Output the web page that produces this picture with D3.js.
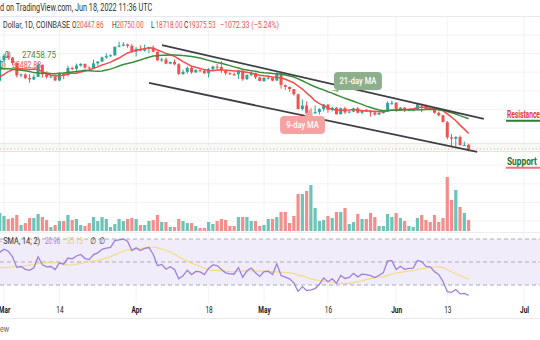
<!DOCTYPE html>
<html><head><meta charset="utf-8">
<script src="https://cdn.jsdelivr.net/npm/d3@7"></script>
<style>
body{margin:0;background:#fff;}
svg{display:block;font-family:Roboto,"DejaVu Sans",sans-serif;}
</style>
</head><body>
<svg id="c" width="540" height="340"></svg>
<script>
// ---------------- DATA ----------------
const firstDay = "2022-02-28";   // first visible daily candle
// warm-up closes (Jan 1 – Feb 27) used only for the indicators
const warmupCloses = [47690,47290,46440,45830,43430,43080,41550,41730,41860,41820,42740,43920,42590,43100,43180,43110,42250,42380,41680,40700,36480,35070,36280,36680,36960,36850,37150,37720,38170,37920,38480,
38740,36950,37150,41570,41410,42410,43840,44100,44350,43560,42400,42200,42080,42550,44560,43880,40550,40000,40120,38430,37020,38280,37260,38330,39220,39110,37710];

const openPrices = [37710,
43190,44420,43920,42460,39140,39400,38420,38060,38740,41980,39440,38730,38810,37780,39670,39280,41120,40920,41770,42250,41260,41000,42370,42890,43960,44330,44540,46820,47130,47450,47070,
45530,46280,45810,46410,46620,45510,43170,43440,42290,42780,42160,39530,40080,41150,39940,40550,40390,39690,40800,41500,41370,40480,39710,39470,39450,40430,38120,39240,39740,38600,
37640,38470,38530,37750,39690,36550,36030,35470,34060,30100,31020,28940,29040,29290,30080,31310,29850,30430,28710,30320,29200,29430,30280,29100,29650,29540,29200,28630,29030,29460,31730,
31790,29800,30450,29700,29860,29910,31370,31130,30200,30110,29090,28420,26570,22490,22130,22580,20380,20447.86];
const highPrices = [44200,
44950,45400,44100,42530,39650,39690,39480,39380,42590,42060,40240,39360,39310,39940,39870,41720,41480,42320,42400,42300,41550,43360,42900,44200,45100,44800,46900,48190,48100,47700,47600,
46720,47200,47420,46880,47200,45510,43900,43970,42800,43430,42420,40700,41550,41500,40860,40700,40600,41120,41740,42200,42980,40800,39990,39920,40620,40800,39450,40370,39900,38790,
38680,39160,38630,39960,39850,36660,36150,35500,34260,32650,32150,30040,31080,30330,31460,31310,30760,30660,30520,30750,29600,30460,30650,29820,30200,29840,29370,29200,29540,32200,32380,
31960,30670,30690,29950,30160,31760,31560,31330,30650,30350,29440,28540,26880,23330,22800,22980,21350,20750.00];
const lowPrices = [37470,
42850,43330,41850,38600,38600,38090,37170,37870,38660,38550,38230,38660,37600,37580,38120,38830,40500,40140,41500,40920,40500,40890,41750,42680,43600,44100,44420,46680,46950,46550,45200,
44230,45650,45550,45150,45370,43100,42750,42120,42130,41880,39200,39250,39590,39580,39790,39990,39550,38540,40570,40820,39770,39200,39300,39000,38200,37700,37880,38880,38180,37580,
37400,38050,37520,37700,35600,35260,34780,33720,30030,29730,27700,26560,28730,28600,29480,29110,29460,28650,28650,28730,28950,29240,28900,28680,29300,28030,28290,28460,28840,29300,31210,
29350,29580,29280,29500,29500,29880,29230,29850,29960,28850,28100,26560,21950,20110,20070,20260,20250,18718.00];
const closePrices = [43190,
44420,43920,42460,39140,39400,38420,38060,38740,41980,39440,38730,38810,37780,39670,39280,41120,40920,41770,42250,41260,41000,42370,42890,43960,44330,44540,46820,47130,47450,47070,45530,
46280,45810,46410,46620,45510,43170,43440,42290,42780,42160,39530,40080,41150,39940,40550,40390,39690,40800,41500,41370,40480,39710,39470,39450,40430,38120,39240,39740,38600,37640,
38470,38530,37750,39690,36550,36030,35470,34060,30100,31020,28940,29040,29290,30080,31310,29850,30430,28710,30320,29200,29430,30280,29100,29650,29540,29200,28630,29030,29460,31730,31790,
29800,30450,29700,29860,29910,31370,31130,30200,30110,29090,28420,26570,22490,22130,22580,20380,20450,19375.53];
// volume, thousand BTC
const volumes = [36,
30,24,26,32,12,16,26,26,34,28,22,8,12,20,20,32,22,24,12,10,16,28,20,28,24,8,14,24,20,24,26,
24,12,12,20,22,32,18,18,8,8,24,20,16,16,10,6,6,18,14,20,24,22,10,10,28,28,28,20,20,10,
12,24,24,28,38,38,16,30,74,74,80,92,46,20,22,30,26,38,38,46,14,18,34,24,24,36,28,10,10,34,28,
36,26,20,10,8,26,32,22,18,32,18,26,108,62,82,48,36,22];

const maPeriods = [9, 21];
const maLegendValues = [23482.88, 27458.75];
const rsiPeriod = 14, rsiSmaPeriod = 14;
const rsiLegendValues = [20.96, 35.13];
const tickDates = ["2022-03-01","2022-03-14","2022-04-01","2022-04-18","2022-05-01","2022-05-16","2022-06-01","2022-06-13","2022-07-01"];
const tickLabels = ["Mar","14","Apr","18","May","16","Jun","13","Jul"];
const priceGrid = [0,5000,10000,15000,20000,25000,30000,35000,40000,45000,50000,55000];
const rsiLevels = [70, 50, 30];
// trend channel (date, price)
const upperTrend = [["2022-04-07T02:00:00Z", 47310], ["2022-06-21T14:00:00Z", 27420]];
const lowerTrend = [["2022-04-04T00:30:00Z", 37100], ["2022-06-20T00:00:00Z", 18550]];
const maNotes = [
  {text:"21-day MA", date:"2022-05-23T01:00:00Z", price:37630, fill:"#8daf8d", tip:[-20,11]},
  {text:"9-day MA",  date:"2022-05-10T01:00:00Z", price:25810, fill:"#f4a2a2", tip:[9,-18]}
];
const levelNotes = [
  {text:"Resistance", date:"2022-06-27", price:27690, color:"#e0393e", line:"#2e7d32", width:33},
  {text:"Support",    date:"2022-06-27", price:15060, color:"#2b6f2f", line:"#f07575", width:30}
];

// ---------------- HELPERS ----------------
const svg = d3.select("#c");
const dates = closePrices.map((_, i) => d3.utcDay.offset(new Date(firstDay + "T00:00:00Z"), i));
const allCloses = warmupCloses.concat(closePrices);
const nWarm = warmupCloses.length;

function sma(vals, n) {
  return vals.map((v, i) => {
    if (i < n - 1 || vals.slice(i - n + 1, i + 1).some(x => x == null)) return null;
    return d3.mean(vals.slice(i - n + 1, i + 1));
  });
}
function rsi(vals, n) {
  const out = vals.map(() => null);
  let g = 0, l = 0;
  for (let i = 1; i <= n; i++) { const d = vals[i] - vals[i-1]; g += Math.max(d,0); l += Math.max(-d,0); }
  g /= n; l /= n; out[n] = 100 - 100 / (1 + g / l);
  for (let i = n + 1; i < vals.length; i++) {
    const d = vals[i] - vals[i-1];
    g = (g * (n - 1) + Math.max(d, 0)) / n;
    l = (l * (n - 1) + Math.max(-d, 0)) / n;
    out[i] = l === 0 ? 100 : 100 - 100 / (1 + g / l);
  }
  return out;
}
const rsiAll = rsi(allCloses, rsiPeriod);
const rsiSmaAll = sma(rsiAll, rsiSmaPeriod);
const rsiVis = rsiAll.slice(nWarm), rsiSmaVis = rsiSmaAll.slice(nWarm);
const maVis = maPeriods.map(p => sma(allCloses, p).slice(nWarm));

// ---------------- SCALES ----------------
const x = d3.scaleUtc().domain([new Date("2022-03-01T00:00:00Z"), new Date("2022-07-01T00:00:00Z")]).range([4, 524]);
const y = d3.scaleLinear().domain([0, 55000]).range([221, 16.4]);
const yVol = d3.scaleLinear().domain([0, 110]).range([231, 176]);
const yRsi = d3.scaleLinear().domain([30, 70]).range([285, 239]);

const SX = 0.72; // horizontal text squeeze of the reference
function txt(g, px, py, s, o = {}) {
  const t = g.append("text")
    .attr("transform", `translate(${px},${py}) scale(${o.sx ?? SX},1)`)
    .attr("font-size", o.size ?? 9).attr("fill", o.fill ?? "#131722")
    .attr("font-weight", o.weight ?? 400).attr("text-anchor", o.anchor ?? "start").text(s);
  if (o.width) {
    const nat = t.node().getComputedTextLength();
    t.attr("transform", `translate(${px},${py}) scale(${o.width / nat},1)`);
  }
  return t;
}

// ---------------- GRID ----------------
const grid = svg.append("g");
grid.selectAll(".hg").data(priceGrid).join("line")
  .attr("x1", 0).attr("x2", 540).attr("y1", d => y(d)).attr("y2", d => y(d))
  .attr("stroke", "#f0f2f6").attr("stroke-width", 1);
grid.selectAll(".vg").data(tickDates).join("line")
  .attr("x1", d => x(new Date(d))).attr("x2", d => x(new Date(d)))
  .attr("y1", 16).attr("y2", 303).attr("stroke", "#f0f2f6");
grid.append("line").attr("x1",0).attr("x2",540).attr("y1",16.5).attr("y2",16.5).attr("stroke","#e6e9ef");
grid.append("line").attr("x1",0).attr("x2",540).attr("y1",232.5).attr("y2",232.5).attr("stroke","#eceef3");
grid.append("line").attr("x1",0).attr("x2",540).attr("y1",318.5).attr("y2",318.5).attr("stroke","#e6e9ef");

// ---------------- RSI PANE ----------------
const rp = svg.append("g");
rp.append("rect").attr("x", 0).attr("width", 540)
  .attr("y", yRsi(70)).attr("height", yRsi(30) - yRsi(70)).attr("fill", "#f1ecfa");
rp.selectAll(".rl").data(rsiLevels).join("line")
  .attr("x1", 0).attr("x2", 540).attr("y1", d => yRsi(d)).attr("y2", d => yRsi(d))
  .attr("stroke", "#a9acb4").attr("stroke-dasharray", "4,3");
rp.append("path").datum(rsiSmaVis.map((v, i) => [dates[i], v]))
  .attr("fill", "none").attr("stroke", "#f3dc84").attr("stroke-width", 1.2)
  .attr("d", d3.line().defined(d => d[1] != null).x(d => x(d[0])).y(d => yRsi(d[1])));
rp.append("path").datum(rsiVis.map((v, i) => [dates[i], v]))
  .attr("fill", "none").attr("stroke", "#9c80dc").attr("stroke-width", 1.3)
  .attr("d", d3.line().defined(d => d[1] != null).x(d => x(d[0])).y(d => yRsi(d[1])));

// RSI legend
const rl = svg.append("g");
txt(rl, 0, 244, "‧ SMA, 14, 2)", {fill:"#333", size:9.5, width:40});
txt(rl, 45, 244, d3.format(".2f")(rsiLegendValues[0]), {fill:"#9c80dc", size:9.5, width:15});
txt(rl, 67, 244, d3.format(".2f")(rsiLegendValues[1]), {fill:"#f0cf4a", size:9.5, width:16});
txt(rl, 90, 244, "∅", {fill:"#333", size:9.5});
txt(rl, 99, 244, "∅", {fill:"#333", size:9.5});

// ---------------- X AXIS ----------------
const ax = svg.append("g").attr("transform", "translate(0,303)")
  .call(d3.axisBottom(x).tickValues(tickDates.map(d => new Date(d + "T00:00:00Z")))
    .tickFormat((d, i) => tickLabels[i]).tickSize(0).tickPadding(4));
ax.select(".domain").remove();
ax.selectAll("text").attr("font-size", 9).attr("fill", "#131722")
  .attr("font-family", "Roboto, 'DejaVu Sans', sans-serif")
  .attr("font-weight", (d, i) => isNaN(+tickLabels[i]) ? 700 : 400)
  .attr("transform", `scale(${SX},1)`);

// ---------------- PRICE PANE ----------------
const pp = svg.append("g");
// levels (last bar high / low / close)
const last = closePrices.length - 1;
[highPrices[last], lowPrices[last]].forEach(v =>
  pp.append("line").attr("x1",0).attr("x2",540).attr("y1",y(v)).attr("y2",y(v)).attr("stroke","#cfe9cf"));
pp.append("line").attr("x1",0).attr("x2",540).attr("y1",y(closePrices[last])).attr("y2",y(closePrices[last]))
  .attr("stroke","#f5a3a3").attr("stroke-dasharray","1.5,2");

// MA legend texts
txt(pp, 5, 58, "0)", {fill:"#333", size:8.5});
txt(pp, 22, 58, d3.format(".2f")(maLegendValues[1]), {fill:"#3f8f3f", size:8.5, width:34});
txt(pp, 0, 67.5, "0)", {fill:"#333", size:8.5});
txt(pp, 12, 67.5, d3.format(".2f")(maLegendValues[0]), {fill:"#f05454", size:8.5, width:29});

// volume
const up = i => closePrices[i] >= openPrices[i];
pp.selectAll(".vol").data(volumes).join("rect")
  .attr("x", (d, i) => x(dates[i]) - 1.6).attr("width", 3.2)
  .attr("y", d => yVol(d)).attr("height", d => yVol(0) - yVol(d))
  .attr("fill", (d, i) => up(i) ? "#6cc4b7" : "#f58e8a");

// candles
const cg = pp.selectAll(".cd").data(closePrices).join("g");
cg.append("line")
  .attr("x1", (d, i) => x(dates[i])).attr("x2", (d, i) => x(dates[i]))
  .attr("y1", (d, i) => y(highPrices[i])).attr("y2", (d, i) => y(lowPrices[i]))
  .attr("stroke", (d, i) => up(i) ? "#26a69a" : "#ef5350").attr("stroke-width", 1);
cg.append("rect")
  .attr("x", (d, i) => x(dates[i]) - 1.5).attr("width", 3)
  .attr("y", (d, i) => y(Math.max(openPrices[i], closePrices[i])))
  .attr("height", (d, i) => Math.max(1, Math.abs(y(openPrices[i]) - y(closePrices[i]))))
  .attr("fill", (d, i) => up(i) ? "#26a69a" : "#ef5350");

// moving averages
const maColors = ["#f34b4b", "#3b8c3b"];
maVis.forEach((m, k) => {
  pp.append("path").datum(m.map((v, i) => [dates[i], v]))
    .attr("fill", "none").attr("stroke", maColors[k]).attr("stroke-width", 1.5)
    .attr("d", d3.line().defined(d => d[1] != null).x(d => x(d[0])).y(d => y(d[1])));
});

// trend channel
[upperTrend, lowerTrend].forEach(t => {
  pp.append("line")
    .attr("x1", x(new Date(t[0][0]))).attr("y1", y(t[0][1]))
    .attr("x2", x(new Date(t[1][0]))).attr("y2", y(t[1][1]))
    .attr("stroke", "#3d3f45").attr("stroke-width", 1.8);
});

// MA callouts
maNotes.forEach(n => {
  const cx = x(new Date(n.date)), cy = y(n.price);
  const w = n.text.length > 8 ? 48 : 45, h = 18;
  const g = pp.append("g");
  const tx = cx + n.tip[0], ty = cy + n.tip[1];
  const bx = n.tip[1] < 0 ? cy - h/2 : cy + h/2;
  g.append("path").attr("d", `M${cx + n.tip[0] - 7},${bx} L${tx},${ty} L${cx + n.tip[0] + 1},${bx} Z`).attr("fill", n.fill);
  g.append("rect").attr("x", cx - w/2).attr("y", cy - h/2).attr("width", w).attr("height", h)
    .attr("rx", 4).attr("fill", n.fill);
  txt(g, cx, cy + 3.2, n.text, {fill:"#fff", size:9.5, anchor:"middle", weight:500, sx:0.8});
});

// level notes
levelNotes.forEach(n => {
  const lx = x(new Date(n.date + "T00:00:00Z")), ly = y(n.price);
  txt(pp, lx, ly, n.text, {fill:n.color, size:10, weight:700, width:n.width});
  pp.append("line").attr("x1", lx - 1).attr("x2", 540).attr("y1", ly + 2.8).attr("y2", ly + 2.8)
    .attr("stroke", n.line).attr("stroke-width", 2);
});

// ---------------- HEADER ----------------
const hd = svg.append("g");
txt(hd, 0, 11, "d on TradingView.com, Jun 18, 2022 11:36 UTC", {fill:"#333", size:10, width:152});
txt(hd, 3, 28, "Dollar, 1D, COINBASE", {fill:"#333", size:9.5, width:67});
const ohlc = [["O", openPrices[last], 72], ["H", highPrices[last], 112], ["L", lowPrices[last], 151], ["C", closePrices[last], 184]];
ohlc.forEach(([k, v, px]) => {
  txt(hd, px, 28, k, {fill:"#333", size:9.5, sx:0.68});
  txt(hd, px + 4.5, 28, d3.format(".2f")(v), {fill:"#ef5350", size:9.5, sx:0.68});
});
const chg = closePrices[last] - openPrices[last];
txt(hd, 220, 28, `${d3.format(".2f")(chg).replace("-", "−")} (${d3.format(".2f")(chg / openPrices[last] * 100).replace("-", "−")}%)`, {fill:"#ef5350", size:9.5, width:59});

// footer
txt(svg, 0, 332, "ew", {fill:"#666", size:9, sx:0.8});
</script>
</body></html>
